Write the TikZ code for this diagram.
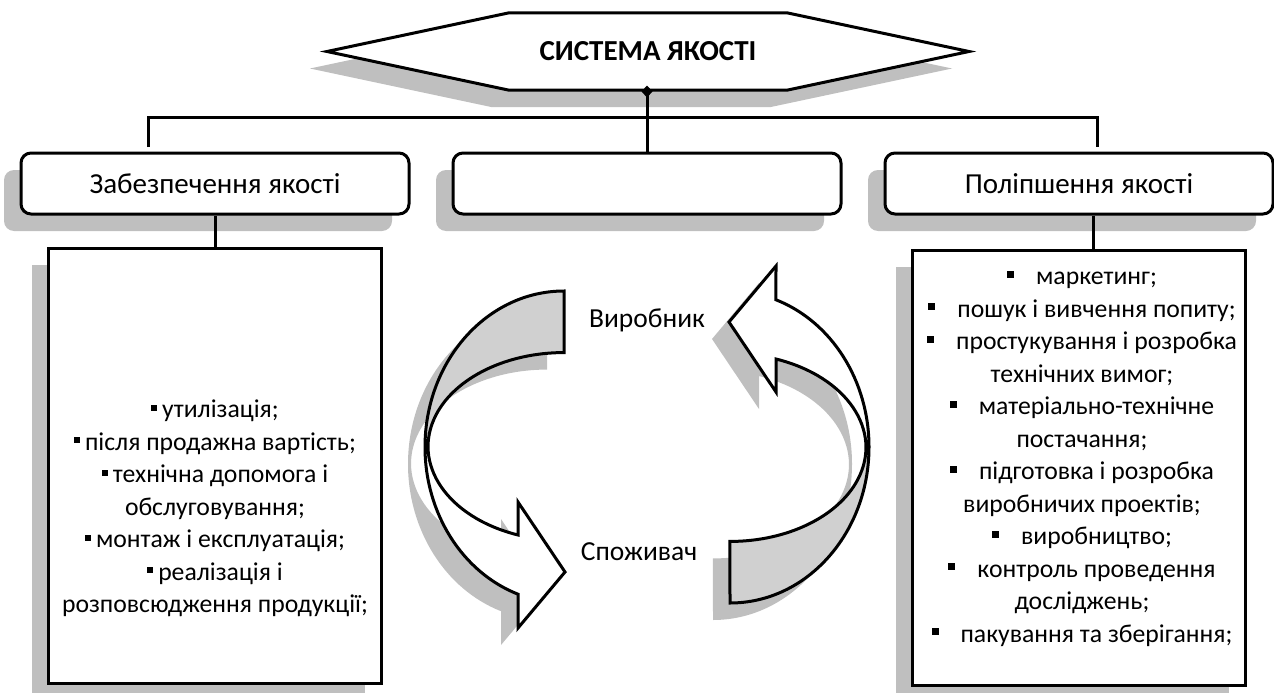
\documentclass[tikz,border=0pt]{standalone}
\usepackage{fontspec}
\setmainfont{Carlito}
\usetikzlibrary{positioning,shapes.symbols,shadows,arrows.meta}
\definecolor{shadowgray}{RGB}{191,191,191}
\definecolor{bandgray}{RGB}{208,208,208}
\newcommand\bul{\rule[7pt]{6pt}{6pt}\hspace{5pt}}
\newcommand\bult{\rule[7pt]{7pt}{7pt}\hspace{22pt}}
\newcommand\ribbonpath{(0,-156) arc[start angle=270, end angle=109.3, x radius=139, y radius=156] -- (-46,181) -- (1,125) -- (-46,55) -- (-46,88) arc[start angle=109.8, end angle=270, x radius=136, y radius=94] -- cycle}

\begin{document}
\begin{tikzpicture}[x=1pt, y=-1pt, line width=3pt,
    every node/.style={font=\fontsize{29}{34}\selectfont},
    dshadow/.style={drop shadow={shadow xshift=-17pt, shadow yshift=-17pt, fill=shadowgray, opacity=1}},
    headbox/.style={draw, rounded corners=10pt, fill=white, dshadow, minimum width=388pt, minimum height=61pt},
    listbox/.style={draw, fill=white, dshadow, minimum width=333pt, minimum height=435pt},
    listtext/.style={align=center, inner sep=0pt, font=\fontsize{25.7}{32.5}\selectfont}]
    \useasboundingbox (0,0) rectangle (1274,693);
    \node[signal, signal to=west and east, signal pointer angle=24, draw, fill=white, dshadow,
        minimum width=642pt, minimum height=77pt, font=\fontsize{29}{34}\selectfont\bfseries] (sys) at (648,51.5) {СИСТЕМА ЯКОСТІ};
    \node[headbox] (mid) at (647,183.5) {};
    \node[headbox, left=41pt of mid] (zab) {Забезпечення якості};
    \node[headbox, right=41pt of mid] (pol) {Поліпшення якості};
    \draw[{Diamond[length=12pt,width=11pt]}-, shorten <=-6pt] (mid.north |- sys.south) -- (mid.north);
    \coordinate (bar) at (647,117);
    \coordinate (barl) at (148,147);
    \coordinate (barr) at (1097,147);
    \draw (barl) |- (bar) -| (barr);
    \node[listbox, below=31pt of zab] (zlist) {};
    \node[listbox, below=33pt of pol] (plist) {};
    \draw (zab.south) -- (zlist.north);
    \draw ([xshift=14pt]pol.south) -- ([xshift=14pt]pol.south |- plist.north);
    \node[listtext] (zitems) at ([yshift=-43pt]zlist.center) {\bul утилізація;\\ \bul після продажна вартість;\\ \bul технічна допомога і\\ обслуговування;\\ \bul монтаж і експлуатація;\\ \bul реалізація і\\ розповсюдження продукції;};
    \node[listtext] (pitems) at ([xshift=3pt,yshift=9pt]plist.center) {\bult маркетинг;\\ \bult пошук і вивчення попиту;\\ \bult простукування і розробка\\ технічних вимог;\\ \bult матеріально-технічне\\ постачання;\\ \bult підготовка і розробка\\ виробничих проектів;\\ \bult виробництво;\\ \bult контроль проведення\\ досліджень;\\ \bult пакування та зберігання;};
    \foreach \ang/\cx in {0/564,180/730}{
        \fill[shadowgray, shift={(-17,17)}, shift={(\cx,447)}, rotate=\ang] \ribbonpath;
        \fill[white, shift={(\cx,447)}, rotate=\ang] \ribbonpath;
        \begin{scope}[shift={(\cx,447)}, rotate=\ang]
            \clip (-170,-200) rectangle (20,0);
            \fill[bandgray] \ribbonpath;
        \end{scope}
        \draw[shift={(\cx,447)}, rotate=\ang] \ribbonpath;
    }
    \node[font=\fontsize{27.5}{33}\selectfont] (vyr) at (647,320) {Виробник};
    \node[font=\fontsize{27.5}{33}\selectfont] (spo) at (639,552) {Споживач};
\end{tikzpicture}
\end{document}
